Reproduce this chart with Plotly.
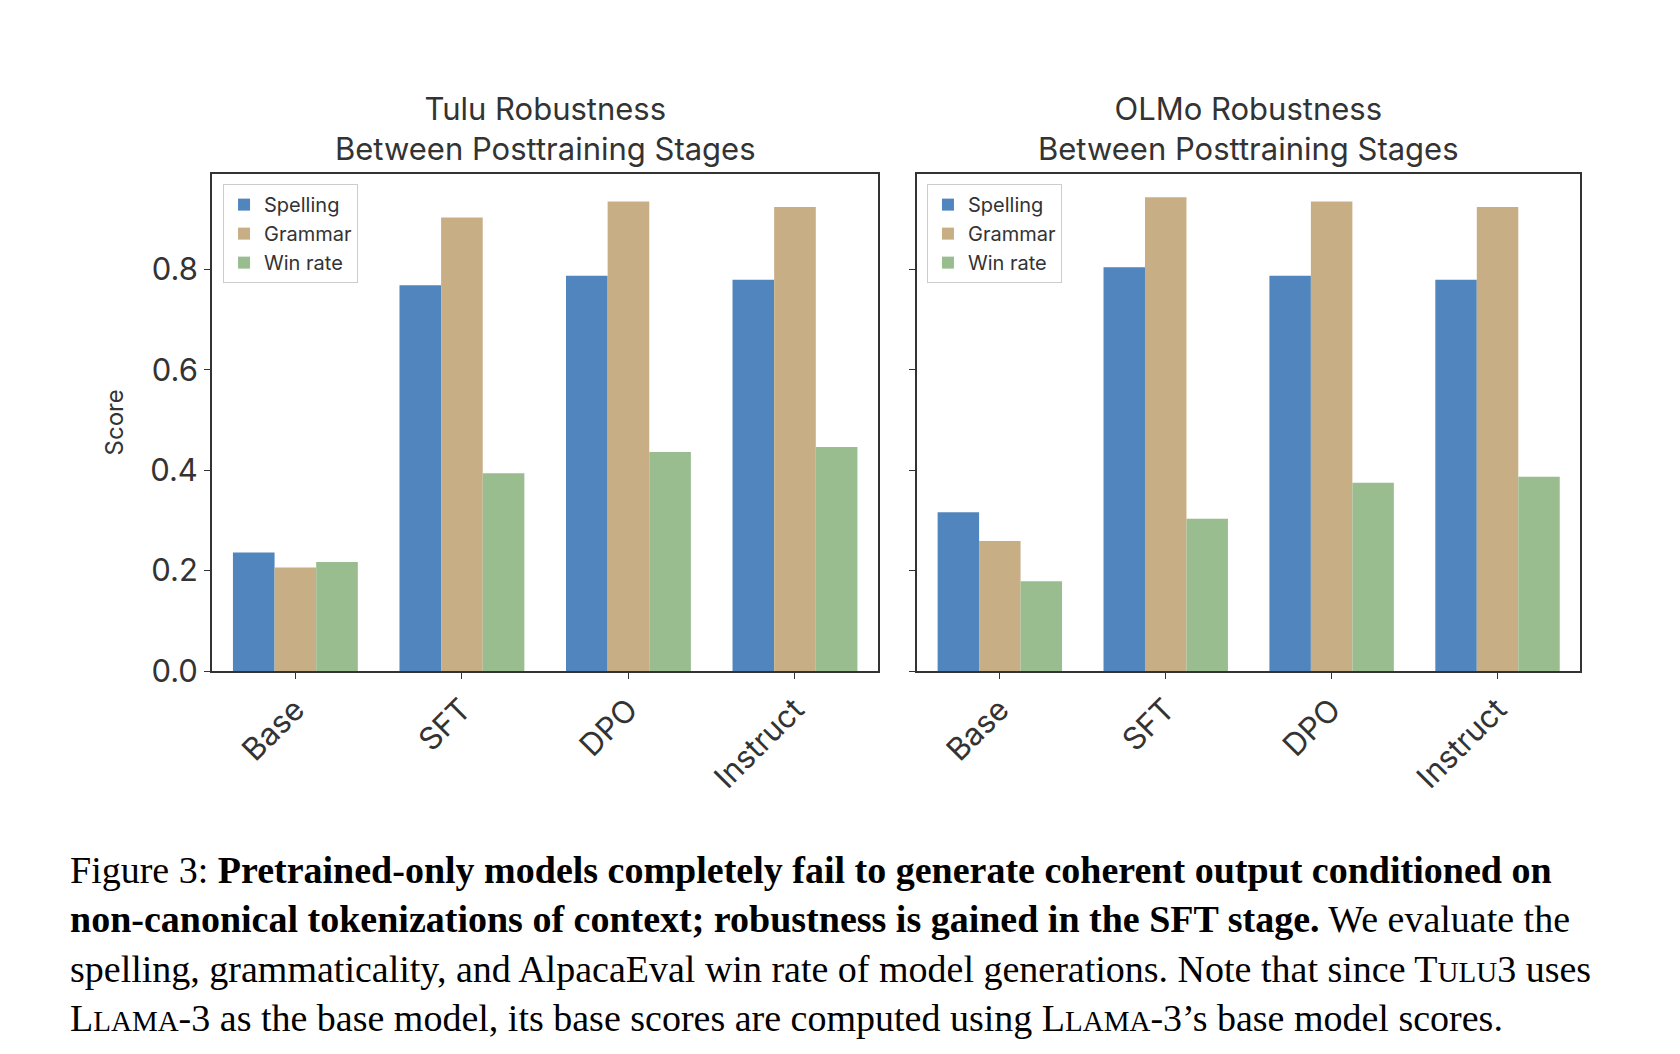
import plotly.graph_objects as go

stages = ["Base", "SFT", "DPO", "Instruct"]
series = ["Spelling", "Grammar", "Win rate"]
colors = ["#5086bd", "#c8ae85", "#9abd8f"]

tulu_spelling = [0.236, 0.768, 0.787, 0.779]
tulu_grammar = [0.206, 0.903, 0.935, 0.924]
tulu_winrate = [0.217, 0.394, 0.436, 0.446]

olmo_spelling = [0.316, 0.804, 0.787, 0.779]
olmo_grammar = [0.259, 0.943, 0.935, 0.924]
olmo_winrate = [0.179, 0.303, 0.375, 0.387]

yticks = [0.0, 0.2, 0.4, 0.6, 0.8]
font = "Inter"

fig = go.Figure()
panels = [
    ([tulu_spelling, tulu_grammar, tulu_winrate], "x", "y", "legend"),
    ([olmo_spelling, olmo_grammar, olmo_winrate], "x2", "y2", "legend2"),
]
for vals, xa, ya, lg in panels:
    for name, v, c in zip(series, vals, colors):
        fig.add_trace(go.Bar(x=stages, y=v, name=name, marker_color=c,
                             marker_line_width=0, xaxis=xa, yaxis=ya, legend=lg))

axis_common = dict(showline=True, linecolor="#333", linewidth=2, mirror=True,
                   showgrid=False, ticks="outside", ticklen=6, tickcolor="#333",
                   tickfont=dict(size=31, color="#333"))
fig.update_layout(
    width=1680, height=1054, plot_bgcolor="white", paper_bgcolor="white",
    margin=dict(l=0, r=0, t=0, b=0), barmode="group", bargap=0.25, bargroupgap=0,
    font=dict(family=font, color="#333"),
    xaxis=dict(domain=[0.1215, 0.518], anchor="y", tickangle=-45, **axis_common),
    xaxis2=dict(domain=[0.541, 0.936], anchor="y2", tickangle=-45, **axis_common),
    yaxis=dict(domain=[0.36, 0.84], range=[0, 0.99], tickvals=yticks,
               ticktext=[f"{t:.1f}" for t in yticks], anchor="x",
               title=dict(text="Score", font=dict(size=24, color="#333"), standoff=20),
               **axis_common),
    yaxis2=dict(domain=[0.36, 0.84], range=[0, 0.99], tickvals=yticks,
                showticklabels=False, anchor="x2", **axis_common),
    legend=dict(x=0.128, y=0.83, xanchor="left", yanchor="top", bgcolor="white",
                bordercolor="#ccc", borderwidth=1, font=dict(size=20, color="#333")),
    legend2=dict(x=0.547, y=0.83, xanchor="left", yanchor="top", bgcolor="white",
                 bordercolor="#ccc", borderwidth=1, font=dict(size=20, color="#333")),
)

fig.add_annotation(text="Tulu Robustness<br>Between Posttraining Stages", x=0.32, y=0.845,
                   xref="paper", yref="paper", xanchor="center", yanchor="bottom",
                   showarrow=False, font=dict(size=31, color="#333"))
fig.add_annotation(text="OLMo Robustness<br>Between Posttraining Stages", x=0.7385, y=0.845,
                   xref="paper", yref="paper", xanchor="center", yanchor="bottom",
                   showarrow=False, font=dict(size=31, color="#333"))

caption = ("Figure 3: <b>Pretrained-only models completely fail to generate coherent output conditioned on</b><br>"
           "<b>non-canonical tokenizations of context; robustness is gained in the SFT stage.</b> We evaluate the<br>"
           "spelling, grammaticality, and AlpacaEval win rate of model generations. Note that since T<span style='font-size:29px'>ULU</span>3 uses<br>"
           "L<span style='font-size:29px'>LAMA</span>-3 as the base model, its base scores are computed using L<span style='font-size:29px'>LAMA</span>-3’s base model scores.")
fig.add_annotation(text=caption, x=0.036, y=0.19, xref="paper", yref="paper",
                   xanchor="left", yanchor="top", align="left", showarrow=False,
                   font=dict(family="Liberation Serif", size=38, color="black"))

fig.write_html("out.html")
